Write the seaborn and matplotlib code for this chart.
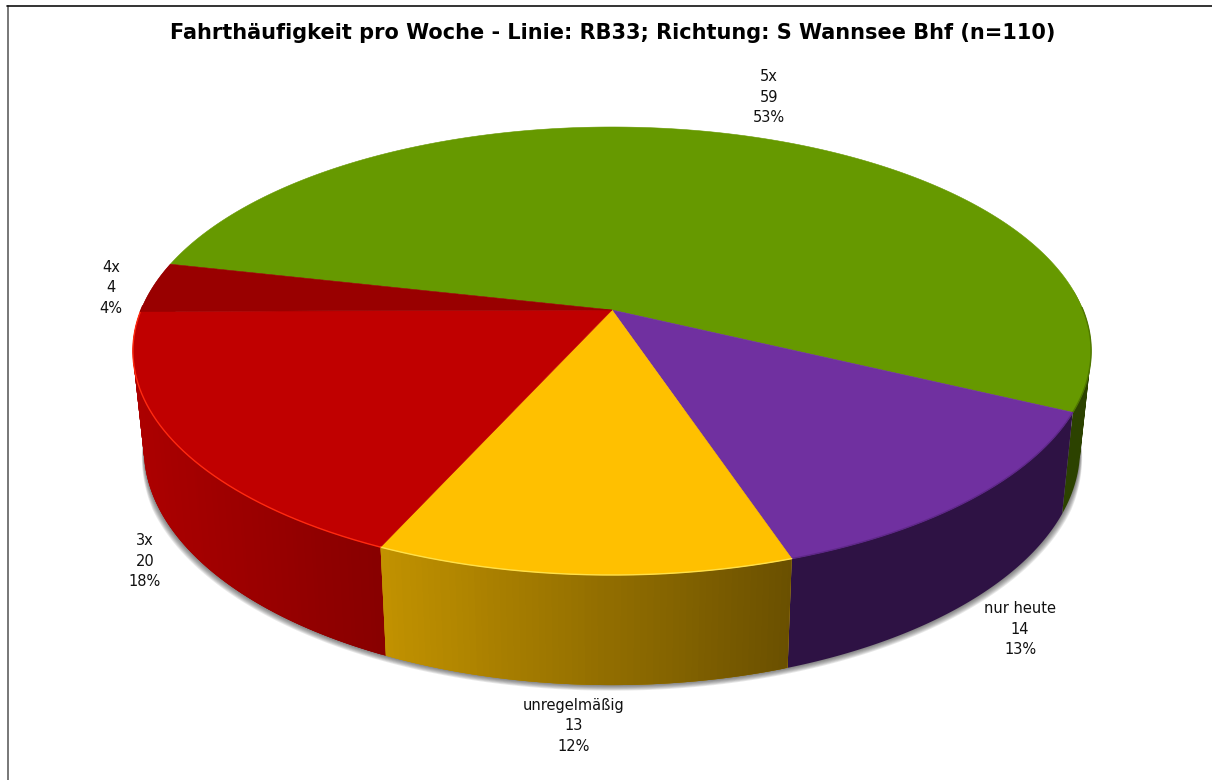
"""
plot.py — 3D-style pie of trip frequency per week (RB33).
"""

import numpy as np
import matplotlib
matplotlib.use("Agg")
import matplotlib.pyplot as plt
from matplotlib.patches import PathPatch
from matplotlib.path import Path
import seaborn as sns


# ── Data ───────────────────────────────────────────────────────────────────────

TITLE       = "Fahrthäufigkeit pro Woche - Linie: RB33; Richtung: S Wannsee Bhf (n=110)"
categories  = ["5x", "nur heute", "unregelmäßig", "3x", "4x"]
counts      = [59, 14, 13, 20, 4]
percents    = [53, 13, 12, 18, 4]

top_colors  = ["#669900", "#7030A0", "#FFC000", "#C00000", "#990000"]
side_left   = ["#2C4200", "#2E1244", "#C29200", "#AC0000", "#960000"]
side_right  = ["#2C4200", "#2E1244", "#6A5000", "#880000", "#960000"]
rim_colors  = ["#4F7700", "#5E2788", "#FFE04A", "#FF2A10", "#990000"]

# ── Geometry (pixels) ──────────────────────────────────────────────────────────

CX, CY   = 612.0, 310.0
RX, RY   = 471.0, 216.5
PERSP    = 0.183
BOT_Y0   = 406.0
BOT_RY   = 228.0
BOT_SX   = 0.977
END_DEG  = 25.8     # where the first slice ends, clockwise from 3 o'clock

label_xy = [(769, 97), (1020, 629), (574, 726), (145, 561), (111, 288)]


def top_rim(deg):
    a = np.radians(deg)
    u, v = np.cos(a), np.sin(a)
    w = 1 - PERSP * v
    return CX + RX * u / w, CY + RY * v / w


def bottom_rim(deg):
    a = np.radians(deg)
    u, v = np.cos(a), np.sin(a)
    w = 1 - PERSP * v
    return CX + BOT_SX * RX * u / w, BOT_Y0 + BOT_RY * v / w


def wall_path(arc):
    # quads with one orientation, so the fold at the silhouette stays filled
    x0, y0 = top_rim(arc)
    x1, y1 = bottom_rim(arc)
    quads = []
    for j in range(len(arc) - 1):
        q = np.array([[x0[j], y0[j]], [x0[j + 1], y0[j + 1]],
                      [x1[j + 1], y1[j + 1]], [x1[j], y1[j]]])
        area = np.sum(q[:, 0] * np.roll(q[:, 1], -1) - np.roll(q[:, 0], -1) * q[:, 1])
        if area < 0:
            q = q[::-1]
        quads.append(Path(np.vstack([q, q[0]]), closed=True))
    return Path.make_compound_path(*quads)


# ── Plot ───────────────────────────────────────────────────────────────────────

sns.set_theme(style="white")
plt.rcParams["font.family"] = ["DejaVu Sans"]

fig = plt.figure(figsize=(12.12, 7.8), dpi=100)
ax = fig.add_axes([0, 0, 1, 1])

ax.plot([7.5, 7.5], [6, 780], color="#777777", lw=1.4, zorder=1)
ax.plot([7, 1212], [6.2, 6.2], color="#111111", lw=1.2, zorder=1)

sweeps = np.array(counts) / sum(counts) * 360
ends   = END_DEG - sweeps[0] + np.cumsum(sweeps)
starts = ends - sweeps

# soft shadow under the lower rim, fading out toward both sides
full = np.linspace(5, 175, 340)
bx, by = bottom_rim(full)
fade = np.clip(np.sin(np.radians(full)) / 0.4, 0, 1)
for off in np.arange(7, 0, -1):
    ax.fill(np.r_[CX, CX + (bx - CX) * (1 + off * 0.0013 * fade)],
            np.r_[BOT_Y0, by + off * 0.8 * fade],
            color="#303030", alpha=0.11, lw=0, zorder=2)

# side wall: flat base per slice, then overlapping strips for the gradient
for rank, i in enumerate([0, 4, 3, 1, 2]):
    arc = np.linspace(starts[i], ends[i], 200)
    arc = arc[np.sin(np.radians(arc)) > -0.1] if i == 0 else arc    # back of 5x is hidden
    z = 3 + rank * 0.1
    ax.add_patch(PathPatch(wall_path(arc), facecolor=side_left[i], edgecolor="none",
                           lw=0, zorder=z))
    if side_left[i] == side_right[i]:
        continue
    edges = np.linspace(starts[i], ends[i], 130)
    ramp = sns.blend_palette([side_left[i], side_right[i]], 64)
    ex, _ = top_rim(edges)
    for j in np.argsort(np.sin(np.radians(edges[:-1]))):
        seg = edges[j:j + 3]    # two steps wide, so the next strip covers the seam
        x0, y0 = top_rim(seg)
        x1, y1 = bottom_rim(seg)
        t = (ex[j] - ex.min()) / (ex.max() - ex.min())
        ax.fill(np.r_[x0, x1[::-1]], np.r_[y0, y1[::-1]], lw=0,
                facecolor=ramp[int(t * 63)], zorder=z + 0.01)

# top face
for i, (a0, a1) in enumerate(zip(starts, ends)):
    arc = np.linspace(a0, a1, 300)
    x, y = top_rim(arc)
    ax.fill(np.r_[CX, x], np.r_[CY, y], facecolor=top_colors[i],
            edgecolor=top_colors[i], lw=0.4, zorder=4)
    seen = np.sin(np.radians(arc)) > -0.02
    ax.plot(x[seen], y[seen], color=rim_colors[i], lw=1.0, zorder=5)

for i, name in enumerate(categories):
    ax.text(*label_xy[i], f"{name}\n{counts[i]}\n{percents[i]}%",
            ha="center", va="center", fontsize=10.5, linespacing=1.42,
            color="#111111", zorder=6)

ax.text(613, 33, TITLE, ha="center", va="center", fontsize=15.05,
        fontweight="bold", color="black", zorder=6)

ax.set_xlim(0, 1212)
ax.set_ylim(780, 0)
ax.axis("off")

fig.savefig("out.png", dpi=100)
